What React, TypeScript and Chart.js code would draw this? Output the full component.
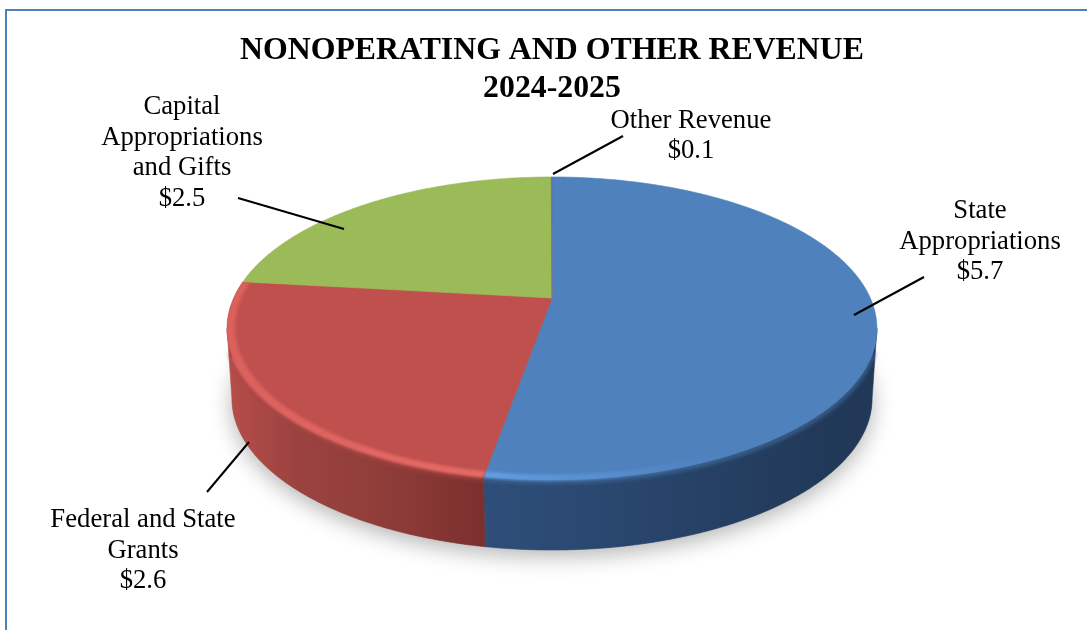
import React, { useEffect, useRef } from "react";
import { Chart, registerables } from "chart.js";

Chart.register(...registerables);

const categories = ["State Appropriations", "Federal and State Grants", "Capital Appropriations and Gifts", "Other Revenue"];
// The "Other Revenue" wedge is drawn as a hairline in the picture, although it is labelled $0.1.
const values = [5.7, 2.6, 2.5, 0.005];
const valueLabels = ["$5.7", "$2.6", "$2.5", "$0.1"];
const titleLines = ["NONOPERATING AND OTHER REVENUE", "2024-2025"];
const topColors = ["#4F81BD", "#C0504D", "#9BBB59", "#8064A2"];

const labelLines = [
  ["State", "Appropriations"],
  ["Federal and State", "Grants"],
  ["Capital", "Appropriations", "and Gifts"],
  ["Other Revenue"],
];
const labelAnchors = [
  { x: 980, y: 211 },
  { x: 143, y: 520 },
  { x: 182, y: 107 },
  { x: 691, y: 121 },
];
const leaders = [
  [854, 315, 924, 277],
  [207, 492, 249, 442],
  [238, 198, 344, 229],
  [553, 174, 623, 136],
];

// Perspective disc
const CX = 552, CY = 298, K = 0.2012, B = 145.4, R = 318.3, DEPTH = 70, BOTTOM_SCALE = 0.985;
const TANGENT = Math.asin(K);

const proj = (a: number, r = 1) => {
  const u = Math.cos(a) * r, v = Math.sin(a) * r, w = 1 - K * v;
  return { x: CX + (R * u) / w, y: CY + (B * v) / w };
};
const projBottom = (a: number) => {
  const p = proj(a);
  return { x: CX + (p.x - CX) * BOTTOM_SCALE, y: p.y + DEPTH };
};
const arcPoints = (a0: number, a1: number, f: (a: number) => { x: number; y: number }) => {
  const n = Math.max(2, Math.ceil(Math.abs(a1 - a0) / 0.01));
  const pts = [];
  for (let i = 0; i <= n; i++) pts.push(f(a0 + ((a1 - a0) * i) / n));
  return pts;
};
const trace = (ctx: CanvasRenderingContext2D, pts: { x: number; y: number }[], move = true) => {
  pts.forEach((p, i) => (i === 0 && move ? ctx.moveTo(p.x, p.y) : ctx.lineTo(p.x, p.y)));
};

const sideStops: [number, string][][] = [
  [[0.42, "#2F507C"], [0.6, "#28446A"], [0.75, "#223A5A"], [0.9, "#1E3450"]],
  [[0.21, "#B74D4A"], [0.27, "#9C4340"], [0.36, "#8E3C39"], [0.44, "#7C302D"]],
  [[0, "#7A9445"], [1, "#7A9445"]],
  [[0, "#5F4B7A"], [1, "#5F4B7A"]],
];

const pie3d = {
  id: "pie3d",
  beforeDraw(chart: any) {
    const ctx = chart.ctx;
    ctx.save();
    ctx.fillStyle = "#FFFFFF";
    ctx.fillRect(0, 0, chart.width, chart.height);
    ctx.fillStyle = "#4F81BD";
    ctx.fillRect(5, 9, chart.width - 5, 2);
    ctx.fillRect(5, 9, 2, chart.height - 9);
    ctx.restore();
  },
  beforeDatasetsDraw(chart: any) {
    const ctx: CanvasRenderingContext2D = chart.ctx;
    const arcs = chart.getDatasetMeta(0).data;
    ctx.save();

    // ground shadow
    ctx.save();
    ctx.shadowColor = "rgba(0,0,0,0.3)";
    ctx.shadowBlur = 22;
    ctx.shadowOffsetY = 6;
    ctx.fillStyle = "#999";
    ctx.beginPath();
    trace(ctx, arcPoints(0, Math.PI * 2, projBottom));
    ctx.closePath();
    ctx.fill();
    ctx.restore();

    // side walls: only the part between the two silhouette tangents faces the viewer
    arcs.forEach((arc: any, i: number) => {
      const from = Math.max(arc.startAngle, TANGENT);
      const to = Math.min(arc.endAngle, Math.PI - TANGENT);
      if (to <= from) return;
      const g = ctx.createLinearGradient(0, 0, chart.width * 1, 0);
      sideStops[i].forEach(([o, c]) => g.addColorStop(o, c));
      ctx.fillStyle = g;
      ctx.strokeStyle = g;
      ctx.lineWidth = 0.6;
      ctx.beginPath();
      trace(ctx, arcPoints(from, to, proj));
      trace(ctx, arcPoints(to, from, projBottom), false);
      ctx.closePath();
      ctx.fill();
      ctx.stroke();
    });

    // soft seam between wall and top
    ctx.save();
    ctx.filter = "blur(2px)";
    arcs.slice(0, 2).forEach((arc: any, i: number) => {
      ctx.strokeStyle = i === 0 ? "#3F6796" : "#A84643";
      ctx.lineWidth = 4;
      ctx.beginPath();
      trace(ctx, arcPoints(Math.max(arc.startAngle, 0.35), Math.min(arc.endAngle, Math.PI - 0.35), (a) => {
        const p = proj(a);
        return { x: p.x, y: p.y + 1.5 };
      }));
      ctx.stroke();
    });
    ctx.restore();

    // top faces
    arcs.forEach((arc: any, i: number) => {
      ctx.fillStyle = topColors[i];
      ctx.strokeStyle = topColors[i];
      ctx.lineWidth = 0.6;
      ctx.beginPath();
      ctx.moveTo(CX, CY);
      trace(ctx, arcPoints(arc.startAngle, arc.endAngle, proj), false);
      ctx.closePath();
      ctx.fill();
      ctx.stroke();
    });

    // bevel highlight along the front rim
    arcs.slice(0, 2).forEach((arc: any, i: number) => {
      ctx.save();
      ctx.beginPath();
      ctx.moveTo(CX, CY);
      trace(ctx, arcPoints(arc.startAngle, arc.endAngle, (a) => proj(a, a < 2.75 && a > 0.35 ? 1.012 : 1)), false);
      ctx.closePath();
      ctx.clip();
      const g = ctx.createLinearGradient(0, 0, chart.width, 0);
      if (i === 0) {
        g.addColorStop(0.44, "rgba(104,165,238,0.85)");
        g.addColorStop(0.56, "rgba(96,155,225,0.5)");
        g.addColorStop(0.7, "rgba(80,130,190,0)");
      } else {
        g.addColorStop(0.2, "rgba(218,96,92,1)");
        g.addColorStop(0.44, "rgba(232,108,104,0.95)");
      }
      ctx.fillStyle = g;
      ctx.filter = "blur(1.5px)";
      ctx.beginPath();
      const from = Math.max(arc.startAngle, 0);
      const to = Math.min(arc.endAngle, Math.PI + 0.12);
      trace(ctx, arcPoints(from, to, (a) => proj(a, 1.004)));
      trace(ctx, arcPoints(to, from, (a) => proj(a, 0.976)), false);
      ctx.closePath();
      ctx.fill();
      ctx.restore();
    });

    ctx.restore();
    return false; // the wedges above replace the flat default drawing
  },
  afterDraw(chart: any) {
    const ctx: CanvasRenderingContext2D = chart.ctx;
    ctx.save();
    ctx.strokeStyle = "#000";
    ctx.lineWidth = 2;
    leaders.forEach(([x0, y0, x1, y1]) => {
      ctx.beginPath();
      ctx.moveTo(x0, y0);
      ctx.lineTo(x1, y1);
      ctx.stroke();
    });
    ctx.fillStyle = "#000";
    ctx.font = '26.7px "Liberation Serif"';
    ctx.textAlign = "center";
    ctx.textBaseline = "middle";
    categories.forEach((_, i) => {
      const lines = [...labelLines[i], valueLabels[i]];
      const step = i === 3 ? 30 : 30.7;
      lines.forEach((t, j) => ctx.fillText(t, labelAnchors[i].x, labelAnchors[i].y + j * step));
    });
    ctx.restore();
  },
};

export default function App() {
  const ref = useRef<HTMLCanvasElement>(null);
  useEffect(() => {
    const chart = new Chart(ref.current!, {
      type: "pie",
      data: {
        labels: categories,
        datasets: [{ data: values, backgroundColor: topColors, borderWidth: 0 }],
      },
      options: {
        animation: false,
        responsive: false,
        layout: { padding: { left: 17 } },
        events: [],
        plugins: {
          legend: { display: false },
          tooltip: { enabled: false },
          title: {
            display: true,
            text: titleLines,
            color: "#000",
            font: { family: '"Liberation Serif"', size: 31.8, weight: "bold", lineHeight: 1.2 },
            padding: { top: 32, bottom: 0 },
          },
        },
      },
      plugins: [pie3d],
    } as any);
    return () => chart.destroy();
  }, []);
  return (
    <canvas
      ref={ref}
      width={1087}
      height={630}
      style={{ position: "absolute", left: 0, top: 0, display: "block" }}
    />
  );
}
